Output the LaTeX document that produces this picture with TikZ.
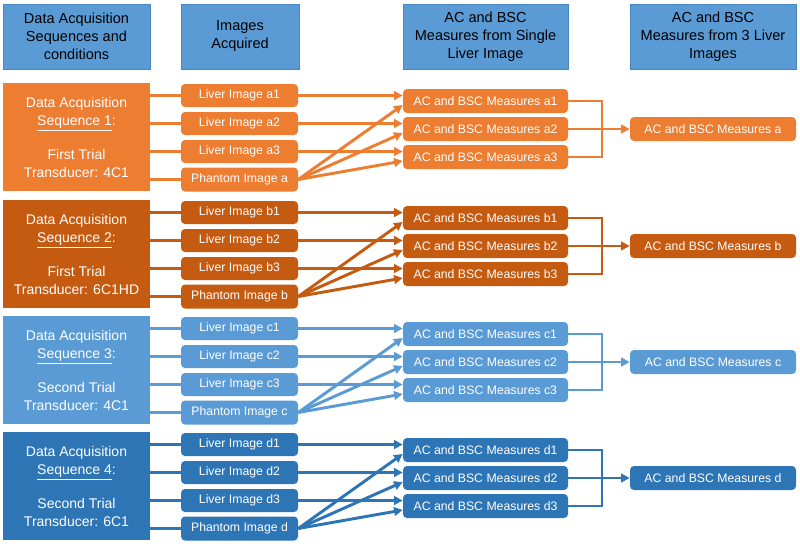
\documentclass[tikz,border=0pt]{standalone}
\usepackage{fontspec}
\setmainfont{Liberation Sans}
\usetikzlibrary{arrows.meta,calc}
\definecolor{oA}{HTML}{ED7D31}
\definecolor{oB}{HTML}{C55A11}
\definecolor{bC}{HTML}{5B9BD5}
\definecolor{bD}{HTML}{2E75B6}
\definecolor{hdrF}{HTML}{5B9BD5}
\definecolor{hdrB}{HTML}{4A86C2}
\newcommand{\pxu}{0.75pt}
\begin{document}
\begin{tikzpicture}[x=0.75pt,y=-0.75pt,
  hdr/.style={draw=hdrB, fill=hdrF, line width=0.6pt, text=black, align=center, inner sep=0pt,
    minimum height=65*\pxu, font=\fontsize{10.9}{13.5}\selectfont},
  lbox/.style={inner sep=0pt, text=white, align=center, minimum width=147*\pxu, minimum height=108*\pxu,
    font=\fontsize{10.5}{13.5}\selectfont},
  ibox/.style={inner sep=0pt, text=white, rounded corners=3pt, minimum width=117*\pxu, minimum height=23*\pxu,
    font=\fontsize{9.2}{11}\selectfont},
  mbox/.style={inner sep=0pt, text=white, rounded corners=3pt, minimum width=165*\pxu, minimum height=24*\pxu,
    font=\fontsize{9.2}{11}\selectfont},
  rbox/.style={inner sep=0pt, text=white, rounded corners=3pt, minimum width=166*\pxu, minimum height=24*\pxu,
    font=\fontsize{9.2}{11}\selectfont},
  conn/.style={line width=2.2pt, line join=miter},
  arr/.style={line width=2.2pt, -{Triangle[length=6.5pt,width=6.5pt]}}
]
\useasboundingbox (0,0) rectangle (800,543);

\node[hdr, minimum width=147*\pxu] (h1) at (76.5,36.5) {Data Acquisition\\Sequences and\\conditions};
\node[hdr, minimum width=118*\pxu] (h2) at (240,36.5) {Images\\Acquired};
\node[hdr, minimum width=165*\pxu] (h3) at (485.5,36.5) {AC and BSC\\Measures from Single\\Liver Image};
\node[hdr, minimum width=166*\pxu] (h4) at (713,36.5) {AC and BSC\\Measures from 3 Liver\\Images};

\foreach \g/\by/\col/\n/\tri/\tra in {a/83/oA/1/First/4C1, b/200/oB/2/First/6C1HD, c/316/bC/3/Second/4C1, d/432/bD/4/Second/6C1}{
  \node[lbox, fill=\col] (L\g) at (76.5,{\by+54}) {Data Acquisition\\\underline{Sequence \n}:\\[12pt]\tri\ Trial\\Transducer: \tra};
  \node[ibox, fill=\col] (I\g1) at (239.5,{\by+12.5}) {Liver Image \g1};
  \node[ibox, fill=\col] (I\g2) at (239.5,{\by+40.5}) {Liver Image \g2};
  \node[ibox, fill=\col] (I\g3) at (239.5,{\by+68.5}) {Liver Image \g3};
  \node[ibox, fill=\col, minimum height=24*\pxu] (P\g) at (239.5,{\by+96.5}) {Phantom Image \g};
  \node[mbox, fill=\col] (M\g1) at (485.5,{\by+18}) {AC and BSC Measures \g1};
  \node[mbox, fill=\col] (M\g2) at (485.5,{\by+46}) {AC and BSC Measures \g2};
  \node[mbox, fill=\col] (M\g3) at (485.5,{\by+74}) {AC and BSC Measures \g3};
  \node[rbox, fill=\col] (R\g) at (713,{\by+46}) {AC and BSC Measures \g};
  \coordinate (J\g) at (602,{\by+46});
  \begin{scope}[color=\col]
    \foreach \k in {1,2,3}{
      \draw[conn] (I\g\k.west -| L\g.east) -- (I\g\k.west);
      \draw[arr] (I\g\k.east) -- (I\g\k.east -| M\g\k.west);
      \draw[arr] (P\g.east) -- ($(M\g\k.west)+(0,4)$);
    }
    \draw[conn] (P\g.west -| L\g.east) -- (P\g.west);
    \draw[conn] (M\g1.east) -- (M\g1.east -| J\g) -- (M\g3.east -| J\g) -- (M\g3.east);
    \draw[arr] (M\g2.east) -- (R\g.west);
  \end{scope}
}
\end{tikzpicture}
\end{document}
